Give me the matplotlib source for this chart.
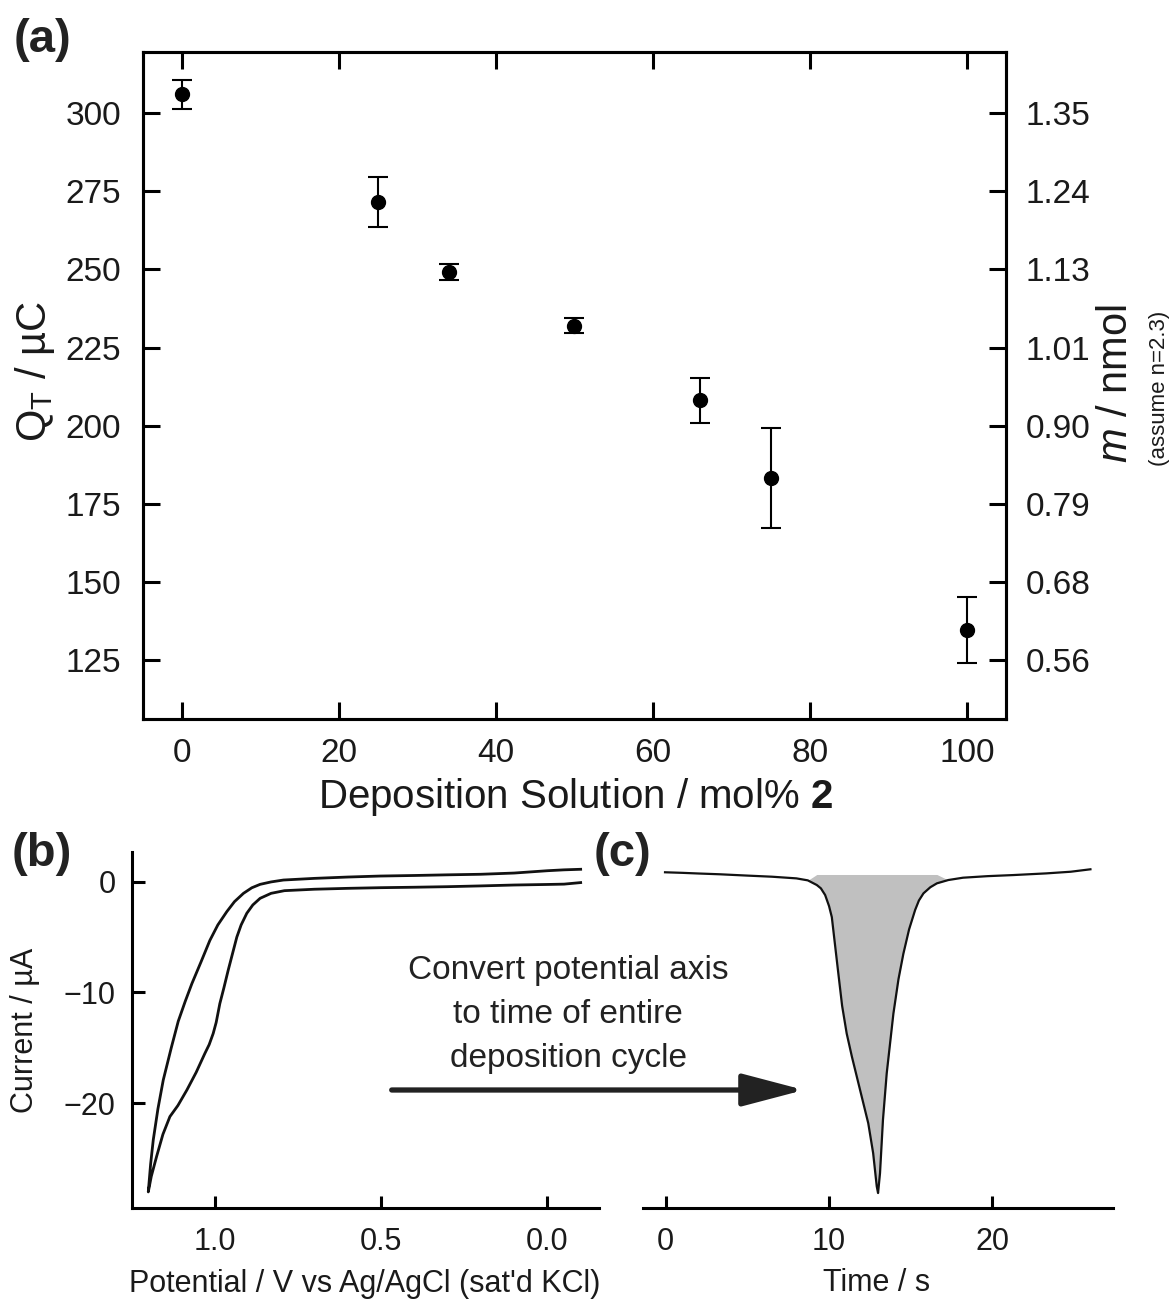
import numpy as np
import matplotlib
matplotlib.use("Agg")
import matplotlib.pyplot as plt

plt.rcParams['font.family'] = ['Liberation Sans', 'DejaVu Sans']
plt.rcParams['mathtext.fontset'] = 'custom'
plt.rcParams['mathtext.rm'] = 'Liberation Sans'
plt.rcParams['mathtext.it'] = 'Liberation Sans:italic'
plt.rcParams['mathtext.bf'] = 'Liberation Sans:bold'

# ---- panel (a) data: charge vs mol% of 2 ----
mol_pct = [0, 25, 34, 50, 66, 75, 100]
charge = [306.0, 271.5, 249.2, 231.9, 208.2, 183.3, 134.6]
charge_err = [4.7, 8.0, 2.7, 2.4, 7.2, 16.0, 10.6]
q_ticks = [125, 150, 175, 200, 225, 250, 275, 300]
m_labels = ['0.56', '0.68', '0.79', '0.90', '1.01', '1.13', '1.24', '1.35']

# ---- panel (b) data: cyclic voltammogram (two branches) ----
E_lower = [-0.100, -0.05, 0.00, 0.10, 0.20, 0.30, 0.40, 0.50, 0.60, 0.70, 0.79,
           0.83, 0.863, 0.885, 0.903, 0.92, 0.933, 0.946, 0.959, 0.972, 0.984,
           0.995, 1.004, 1.016, 1.029, 1.055, 1.083, 1.11, 1.134, 1.155, 1.174,
           1.19, 1.199]
I_lower = [-0.08, -0.22, -0.25, -0.30, -0.38, -0.45, -0.50, -0.54, -0.60, -0.68, -0.81,
           -1.05, -1.5, -2.1, -2.85, -3.9, -5.0, -6.5, -8.0, -9.6, -11.0,
           -12.7, -13.7, -14.7, -15.5, -17.2, -18.8, -20.2, -21.2, -22.8, -24.8,
           -26.6, -28.0]
E_upper = [1.199, 1.192, 1.184, 1.17, 1.154, 1.13, 1.109, 1.088, 1.068, 1.04, 1.014,
           0.99, 0.963, 0.94, 0.913, 0.888, 0.863, 0.83, 0.793, 0.70, 0.60, 0.503,
           0.40, 0.30, 0.20, 0.10, 0.00, -0.05, -0.10]
I_upper = [-28.0, -25.5, -23.3, -20.5, -17.9, -15.0, -12.6, -10.8, -9.2, -7.2, -5.3,
           -3.9, -2.7, -1.8, -1.05, -0.55, -0.24, -0.02, 0.15, 0.30, 0.42, 0.51,
           0.56, 0.62, 0.67, 0.78, 0.99, 1.07, 1.12]

# ---- panel (c) data: current vs time ----
t_s = [-0.04, 1.0, 2.0, 3.3, 5.0, 6.5, 8.0, 8.7, 9.25, 9.5, 9.76, 10.0, 10.17,
       10.35, 10.57, 10.8, 11.08, 11.4, 11.7, 12.05, 12.4, 12.7, 12.92, 13.0,
       13.12, 13.3, 13.53, 13.94, 14.25, 14.55, 14.9, 15.27, 15.5, 15.78, 16.2,
       16.6, 17.3, 18.2, 19.7, 21.3, 23.3, 24.8, 26.0]
I_t = [0.85, 0.80, 0.74, 0.67, 0.55, 0.45, 0.30, 0.12, -0.3, -0.6, -1.2, -2.2, -3.2,
       -5.5, -8.3, -11.2, -13.7, -15.8, -17.6, -19.7, -21.8, -24.5, -27.5, -28.1,
       -26.3, -21.5, -17.3, -11.9, -8.8, -6.5, -4.3, -2.55, -1.7, -1.05, -0.5,
       -0.15, 0.15, 0.36, 0.5, 0.6, 0.75, 0.9, 1.12]
fill_start, fill_end, fill_base = 8.8, 17.0, 0.65

W, H = 1174, 1302
fig = plt.figure(figsize=(W / 100, H / 100), dpi=100)


def box(x0, y0, x1, y1):
    # pixel box (left, top, right, bottom) -> figure fractions
    return [x0 / W, 1 - y1 / H, (x1 - x0) / W, (y1 - y0) / H]


def ftext(x, y, s, **kw):
    fig.text(x / W, 1 - y / H, s, **kw)


txt = '#1a1a1a'

# ---------------- panel (a) ----------------
ax = fig.add_axes(box(143.3, 51.7, 1006, 719))
ax.errorbar(mol_pct, charge, yerr=charge_err, fmt='o', color='k', ms=10,
            capsize=7, elinewidth=1.5, capthick=1.5)
ax.set_xlim(-4.9, 105)
ax.set_ylim(106.1, 319.7)
ax.set_xticks([0, 20, 40, 60, 80, 100])
ax.set_yticks(q_ticks)
ax.tick_params(axis='both', direction='in', length=12, width=2.2, labelsize=24,
               colors='k', labelcolor=txt)
ax.tick_params(axis='x', top=True, pad=14)
ax.tick_params(axis='y', pad=16)
for s in ax.spines.values():
    s.set_linewidth(2.2)

ax2 = ax.twinx()
ax2.set_ylim(ax.get_ylim())
ax2.set_yticks(q_ticks)
ax2.set_yticklabels(m_labels)
ax2.tick_params(axis='y', direction='in', length=12, width=2.2, labelsize=24,
                pad=14, labelcolor=txt)
for s in ax2.spines.values():
    s.set_linewidth(2.2)

ftext(575, 797, r'Deposition Solution / mol% $\mathbf{2}$', fontsize=29,
      ha='center', va='center', color=txt)
ftext(35, 372, r'Q$_\mathrm{T}$ / µC', fontsize=30, rotation=90,
      ha='center', va='center', color=txt)
ftext(1116, 384, r'$m$ / nmol', fontsize=30, rotation=90,
      ha='center', va='center', color=txt)
ftext(1160, 388, '(assume n=2.3)', fontsize=16, rotation=90,
      ha='center', va='center', color=txt)

# ---------------- panel (b) ----------------
bx = fig.add_axes(box(132.3, 852, 599.3, 1208))
bx.plot(E_lower + E_upper, I_lower + I_upper, color='#111111', lw=2.0,
        solid_joinstyle='round')
bx.set_xlim(1.247, -0.156)
bx.set_ylim(-29.45, 2.68)
bx.set_xticks([1.0, 0.5, 0.0])
bx.set_yticks([0, -10, -20])
bx.spines['top'].set_visible(False)
bx.spines['right'].set_visible(False)
for s in ('left', 'bottom'):
    bx.spines[s].set_linewidth(2.2)
bx.tick_params(direction='in', length=9, width=2.2, labelsize=22, labelcolor=txt)
bx.tick_params(axis='y', pad=12)
bx.tick_params(axis='x', pad=14)
ftext(25, 1030, 'Current / µA', fontsize=22, rotation=90,
      ha='center', va='center', color=txt)
ftext(365, 1284, "Potential / V vs Ag/AgCl (sat'd KCl)", fontsize=22,
      ha='center', va='center', color=txt)

# ---------------- panel (c) ----------------
cx = fig.add_axes(box(643.3, 852, 1113.3, 1208))
t_arr = np.array(t_s)
i_arr = np.array(I_t)
cx.fill_between(t_arr, i_arr, fill_base,
                where=(t_arr >= fill_start) & (t_arr <= fill_end),
                interpolate=True, color='#c0c0c0', lw=0)
cx.plot(t_arr, i_arr, color='#111111', lw=1.6)
cx.set_xlim(-1.37, 27.4)
cx.set_ylim(-29.45, 2.68)
cx.set_xticks([0, 10, 20])
cx.set_yticks([])
for s in ('top', 'right', 'left'):
    cx.spines[s].set_visible(False)
cx.spines['bottom'].set_linewidth(2.2)
cx.tick_params(direction='in', length=9, width=2.2, labelsize=22, pad=14,
               labelcolor=txt)
ftext(877, 1283, 'Time / s', fontsize=22, ha='center', va='center', color=txt)

# arrow + note between (b) and (c)
for line, yb in zip(['Convert potential axis', 'to time of entire',
                     'deposition cycle'], [979, 1023, 1067]):
    ftext(568, yb, line, fontsize=24, ha='center', va='baseline', color='#222222')
fig.add_artist(matplotlib.patches.FancyArrowPatch(
    (391.7 / W, 1 - 1090 / H), (804 / W, 1 - 1090 / H),
    transform=fig.transFigure, arrowstyle='-|>,head_length=1.9,head_width=0.5',
    mutation_scale=20, lw=3.8, color='#222222', shrinkA=0, shrinkB=0))

# panel letters
ftext(42, 40, '(a)', fontsize=34, fontweight='bold', ha='center', va='center', color='#222222')
ftext(42, 854, '(b)', fontsize=34, fontweight='bold', ha='center', va='center', color='#222222')
ftext(622, 854, '(c)', fontsize=34, fontweight='bold', ha='center', va='center', color='#222222')

fig.savefig('out.png', dpi=100)
